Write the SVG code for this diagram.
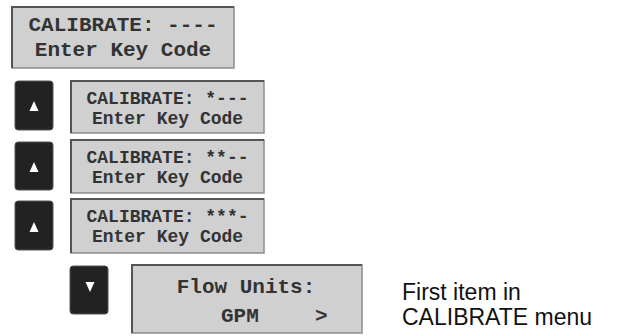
<svg xmlns="http://www.w3.org/2000/svg" width="618" height="336" viewBox="0 0 618 336">
<style>
.lcd{fill:#d0d0d0;stroke:#8c8c8c;stroke-width:1.5}
.edge{fill:none;stroke:#555;stroke-width:2}
.mono{font-family:"Liberation Mono","Courier New",monospace;font-weight:bold;fill:#333}
.big{font-size:21px}
.small{font-size:18px}
.btn{fill:#222;stroke:#555;stroke-width:1}
.tri{fill:#fff}
.note{font-family:"Liberation Sans",Arial,sans-serif;font-size:23px;fill:#111}
</style>
<rect width="618" height="336" fill="#fff"/>
<g id="connectors"/>
<g id="lcd-start">
<rect class="lcd" x="12" y="7" width="222" height="61"/>
<path class="edge" d="M12 68 V7 H234"/>
<text class="mono big" x="123" y="31" text-anchor="middle">CALIBRATE: ----</text>
<text class="mono big" x="123" y="56" text-anchor="middle">Enter Key Code</text>
</g>
<g id="btn-up-1">
<rect class="btn" x="15" y="81" width="38" height="49" rx="3"/>
<polygon class="tri" points="34,101 38.5,111 29.5,111"/>
</g>
<g id="lcd-1">
<rect class="lcd" x="71" y="81" width="193" height="52"/>
<path class="edge" d="M71 133 V81 H264"/>
<text class="mono small" x="167.5" y="104" text-anchor="middle">CALIBRATE: *---</text>
<text class="mono small" x="167.5" y="124" text-anchor="middle">Enter Key Code</text>
</g>
<g id="btn-up-2">
<rect class="btn" x="15" y="142" width="38" height="48" rx="3"/>
<polygon class="tri" points="34,162 38.5,172 29.5,172"/>
</g>
<g id="lcd-2">
<rect class="lcd" x="71" y="140" width="193" height="53"/>
<path class="edge" d="M71 193 V140 H264"/>
<text class="mono small" x="167.5" y="163" text-anchor="middle">CALIBRATE: **--</text>
<text class="mono small" x="167.5" y="183" text-anchor="middle">Enter Key Code</text>
</g>
<g id="btn-up-3">
<rect class="btn" x="15" y="201" width="38" height="49" rx="3"/>
<polygon class="tri" points="34,222 38.5,232 29.5,232"/>
</g>
<g id="lcd-3">
<rect class="lcd" x="71" y="199" width="193" height="54"/>
<path class="edge" d="M71 253 V199 H264"/>
<text class="mono small" x="167.5" y="222" text-anchor="middle">CALIBRATE: ***-</text>
<text class="mono small" x="167.5" y="242" text-anchor="middle">Enter Key Code</text>
</g>
<g id="btn-down">
<rect class="btn" x="70" y="266" width="38" height="48" rx="3"/>
<polygon class="tri" points="85.5,282 94.5,282 90,292"/>
</g>
<g id="lcd-flow">
<rect class="lcd" x="132" y="265" width="230" height="68"/>
<path class="edge" d="M132 333 V265 H362"/>
<text class="mono big" x="246" y="293" text-anchor="middle">Flow Units:</text>
<text class="mono big" x="221" y="322">GPM</text>
<text class="mono big" x="315" y="322">&gt;</text>
</g>
<g id="note">
<text class="note" x="402" y="300">First item in</text>
<text class="note" x="402" y="325">CALIBRATE menu</text>
</g>
</svg>
